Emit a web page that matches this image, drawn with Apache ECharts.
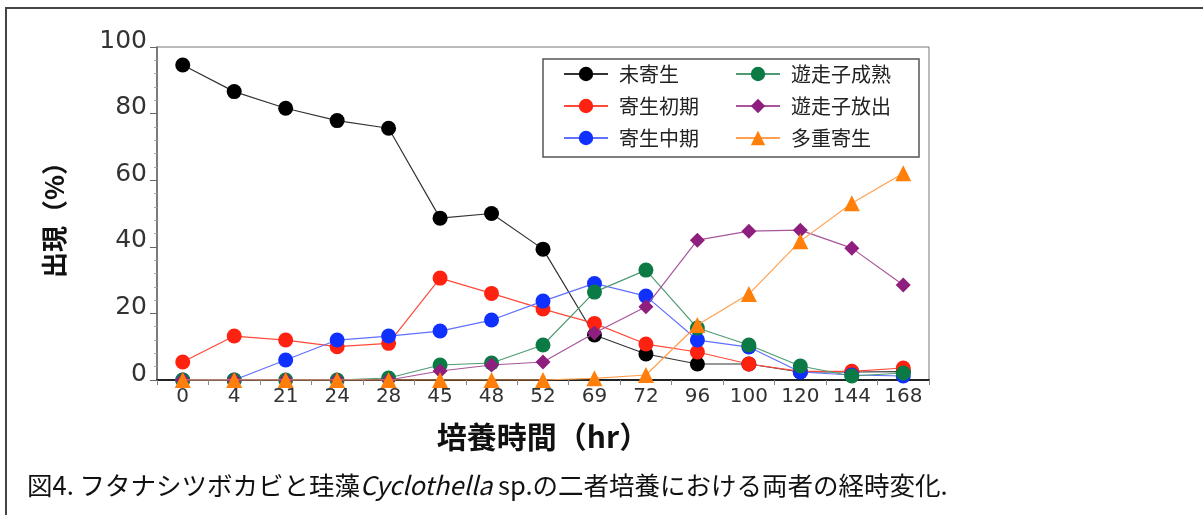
<!DOCTYPE html>
<html><head><meta charset="utf-8">
<script src="https://cdn.jsdelivr.net/npm/echarts@6/dist/echarts.min.js"></script>
<style>html,body{margin:0;padding:0;background:#fff}#c{width:1203px;height:515px}</style>
</head><body><div id="c"></div>
<script>
const categories = ['0','4','21','24','28','45','48','52','69','72','96','100','120','144','168'];
const yTicks = [0,20,40,60,80,100];
const seriesNames = ['未寄生','寄生初期','寄生中期','遊走子成熟','遊走子放出','多重寄生'];
const miKisei    = [94.6,86.6,81.6,77.9,75.6,48.6,50.0,39.3,13.5,7.8,4.8,4.8,2.4,2.4,2.5];
const shoki      = [5.4,13.2,12.0,10.0,11.0,30.6,26.0,21.3,17.0,10.8,8.4,4.8,2.6,2.6,3.6];
const chuki      = [0,0,6.0,12.0,13.2,14.7,18.0,23.7,29.0,25.2,12.0,9.9,2.4,1.5,1.2];
const seijuku    = [0,0,0,0,0.6,4.5,5.1,10.5,26.4,33.0,15.6,10.5,4.2,1.2,2.1];
const hoshutsu   = [0,0,0,0,0,2.7,4.5,5.4,14.1,22.0,42.0,44.7,45.0,39.6,28.5];
const tajuu      = [0,0,0,0,0,0,0,0,0.5,1.5,16.5,25.8,41.7,53.1,62.1];
const xTitle = '培養時間（hr）';
const yTitle = '出現（%）';
const caption = '図4. フタナシツボカビと珪藻{it|Cyclothella} sp.の二者培養における両者の経時変化.';

const styles = [
  {line:'#333333', mark:'#000000', sym:'circle', size:15},
  {line:'#ff4a3a', mark:'#ff2210', sym:'circle', size:15},
  {line:'#6070ff', mark:'#1030ff', sym:'circle', size:15},
  {line:'#4f9a72', mark:'#0b7a45', sym:'circle', size:15},
  {line:'#a8559c', mark:'#8e1f7e', sym:'diamond', size:15},
  {line:'#ffa050', mark:'#ff7f0a', sym:'triangle', size:16}
];
const dataArr = [miKisei, shoki, chuki, seijuku, hoshutsu, tajuu];

const series = seriesNames.map((n,i)=>({
  name:n, type:'line', data:dataArr[i], symbol:styles[i].sym, symbolSize:styles[i].size,
  lineStyle:{color:styles[i].line, width:1.2}, itemStyle:{color:styles[i].mark},
  emphasis:{disabled:true}, animation:false, z:2+i
}));

const FONT = '"DejaVu Sans", sans-serif';
const CJK = '"Noto Sans CJK JP", sans-serif';
const legendCommon = {orient:'vertical', top:64, padding:0, itemWidth:44, itemHeight:18, itemGap:12,
  textStyle:{fontFamily:CJK, fontSize:20, color:'#222', padding:[0,0,0,6]}, selectedMode:false};

const chart = echarts.init(document.getElementById('c'), null, {renderer:'canvas'});
chart.setOption({
  backgroundColor:'#fff',
  animation:false,
  grid:{left:157, right:274, top:47, bottom:135, show:true, borderColor:'#777', borderWidth:1, backgroundColor:'transparent'},
  xAxis:{type:'category', data:categories, boundaryGap:true,
    axisLine:{lineStyle:{color:'#222', width:2}},
    axisTick:{show:true, length:5, lineStyle:{color:'#888'}},
    axisLabel:{fontFamily:FONT, fontSize:20, color:'#333', margin:7},
    name:xTitle, nameLocation:'middle', nameGap:42,
    nameTextStyle:{fontFamily:CJK, fontSize:30, fontWeight:'bold', color:'#111'}},
  yAxis:{type:'value', min:0, max:100, interval:20,
    axisLine:{show:true, lineStyle:{color:'#666', width:1.5}},
    axisTick:{show:true, length:7, lineStyle:{color:'#666'}},
    minorTick:{show:true, splitNumber:5, length:3, lineStyle:{color:'#aaa'}},
    splitLine:{show:false},
    axisLabel:{fontFamily:FONT, fontSize:25, color:'#333', margin:10, verticalAlign:'bottom', lineHeight:12,
      formatter:v=>yTicks.includes(v)?String(v):''},
    name:yTitle, nameLocation:'middle', nameGap:90, nameRotate:90,
    nameTextStyle:{fontFamily:CJK, fontSize:26, fontWeight:'bold', color:'#111'}},
  legend:[
    Object.assign({}, legendCommon, {left:563, data:[seriesNames[0],seriesNames[1],seriesNames[2]]}),
    Object.assign({}, legendCommon, {left:735, data:[seriesNames[3],seriesNames[4],seriesNames[5]]})
  ],
  graphic:[
    {type:'rect', shape:{x:543, y:59, width:376, height:98}, style:{fill:'none', stroke:'#555', lineWidth:1.5}, z:0},
    {type:'polyline', shape:{points:[[6,515],[6,8],[1203,8]]}, style:{fill:'none', stroke:'#444', lineWidth:2}},
    {type:'text', left:27, top:473, style:{text:caption, fontFamily:CJK, fontSize:25.5, fill:'#111',
      rich:{it:{fontStyle:'italic', fontFamily:CJK, fontSize:25.5, fill:'#111'}}}}
  ],
  series:series
});
</script></body></html>
